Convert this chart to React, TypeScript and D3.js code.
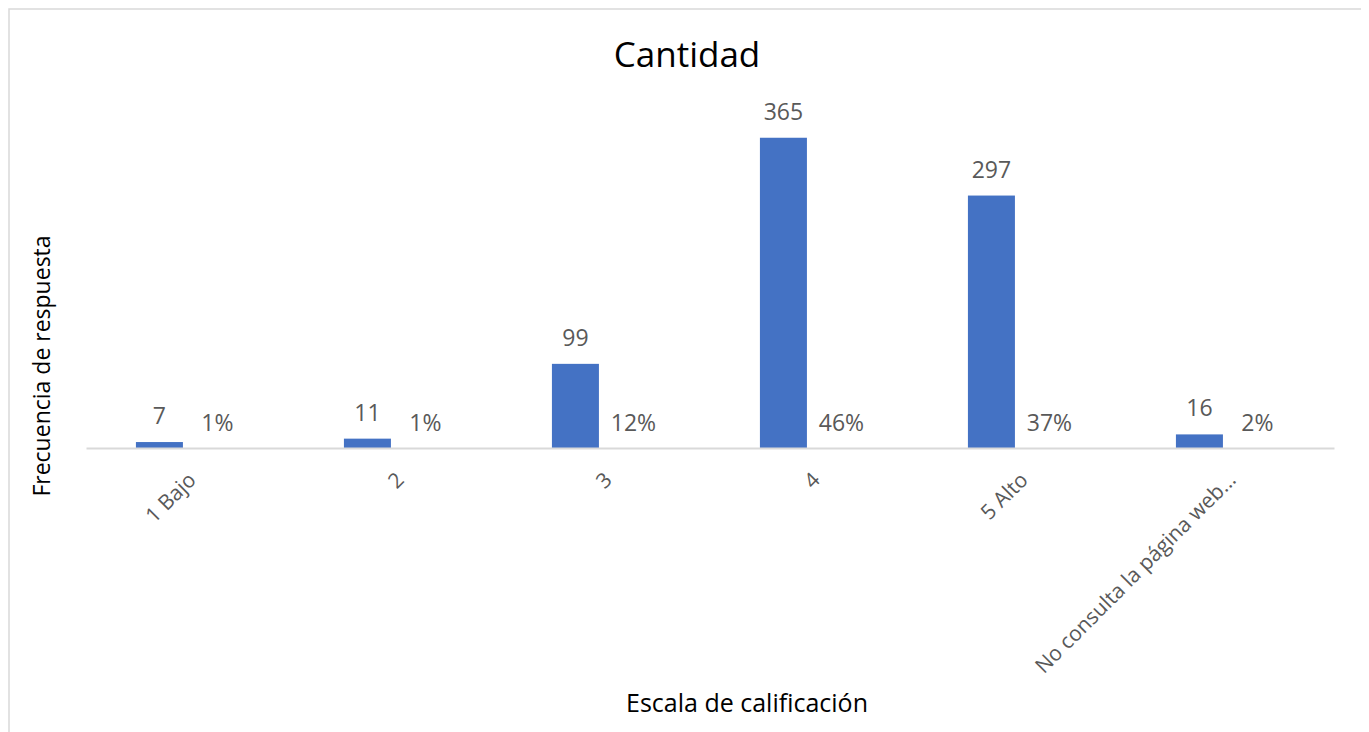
import React, { useEffect, useRef } from "react";
import * as d3 from "d3";

const categorias = ["1 Bajo", "2", "3", "4", "5 Alto", "No consulta la página web..."];
const cantidad = [7, 11, 99, 365, 297, 16];
const porcentaje = [1, 1, 12, 46, 37, 2];
const series = ["Cantidad", "Porcentaje"];
const yMax = 400;

const App: React.FC = () => {
  const ref = useRef<SVGSVGElement>(null);

  useEffect(() => {
    const svg = d3.select(ref.current);
    svg.selectAll("*").remove();

    const width = 1358;
    const height = 724;
    const margin = { top: 100, right: 32, bottom: 284, left: 78 };
    const font = "'Open Sans', 'Segoe UI', sans-serif";

    svg.attr("width", width).attr("height", height);

    // chart frame (bottom edge runs past the picture)
    svg
      .append("rect")
      .attr("x", 1)
      .attr("y", 1)
      .attr("width", width - 2)
      .attr("height", height + 40)
      .attr("fill", "white")
      .attr("stroke", "#d9d9d9")
      .attr("stroke-width", 1.5);

    const x = d3
      .scaleBand()
      .domain(categorias)
      .range([margin.left, width - margin.right])
      .padding(0);

    const xs = d3
      .scaleBand()
      .domain(series)
      .range([x.bandwidth() * 0.24, x.bandwidth() * 0.745])
      .paddingInner(0.19);

    const y = d3
      .scaleLinear()
      .domain([0, yMax])
      .range([height - margin.bottom, margin.top]);

    const rows = categorias.map((c, i) => ({
      cat: c,
      cantidad: cantidad[i],
      porcentaje: porcentaje[i],
    }));

    svg
      .append("g")
      .selectAll("rect")
      .data(rows)
      .join("rect")
      .attr("x", (d) => x(d.cat)! + xs("Cantidad")!)
      .attr("y", (d) => y(d.cantidad))
      .attr("width", xs.bandwidth())
      .attr("height", (d) => y(0) - y(d.cantidad))
      .attr("fill", "#4472C4");

    // axis line
    const axis = svg
      .append("g")
      .attr("transform", `translate(0,${y(0)})`)
      .call(d3.axisBottom(x).tickSize(0).tickFormat(() => ""));
    axis.select(".domain").attr("stroke", "#d9d9d9").attr("stroke-width", 2);

    // value labels
    svg
      .append("g")
      .selectAll("text")
      .data(rows)
      .join("text")
      .attr("x", (d) => x(d.cat)! + xs("Cantidad")! + xs.bandwidth() / 2)
      .attr("y", (d) => y(d.cantidad) - 18)
      .attr("text-anchor", "middle")
      .attr("fill", "#595959")
      .attr("font-family", font)
      .attr("font-size", "23px")
      .text((d) => d.cantidad);

    svg
      .append("g")
      .selectAll("text")
      .data(rows)
      .join("text")
      .attr("x", (d) => x(d.cat)! + xs("Porcentaje")! + xs.bandwidth() / 2)
      .attr("y", y(0) - 17)
      .attr("text-anchor", "middle")
      .attr("fill", "#595959")
      .attr("font-family", font)
      .attr("font-size", "23px")
      .text((d) => `${d.porcentaje}%`);

    // category labels
    svg
      .append("g")
      .selectAll("text")
      .data(categorias)
      .join("text")
      .attr(
        "transform",
        (d) => `translate(${x(d)! + x.bandwidth() / 2 + 2},${y(0) + 28}) rotate(-45)`
      )
      .attr("text-anchor", "end")
      .attr("dy", "0.35em")
      .attr("fill", "#595959")
      .attr("font-family", font)
      .attr("font-size", "21px")
      .text((d) => d);

    svg
      .append("text")
      .attr("x", 679)
      .attr("y", 59)
      .attr("text-anchor", "middle")
      .attr("fill", "#000")
      .attr("font-family", font)
      .attr("font-size", "35px")
      .text("Cantidad");

    svg
      .append("text")
      .attr("x", 739)
      .attr("y", 704)
      .attr("text-anchor", "middle")
      .attr("fill", "#000")
      .attr("font-family", font)
      .attr("font-size", "25px")
      .text("Escala de calificación");

    svg
      .append("text")
      .attr("transform", "translate(42,358) rotate(-90)")
      .attr("text-anchor", "middle")
      .attr("fill", "#000")
      .attr("font-family", font)
      .attr("font-size", "23px")
      .text("Frecuencia de respuesta");
  }, []);

  return <svg ref={ref} style={{ display: "block" }}></svg>;
};

export default App;
